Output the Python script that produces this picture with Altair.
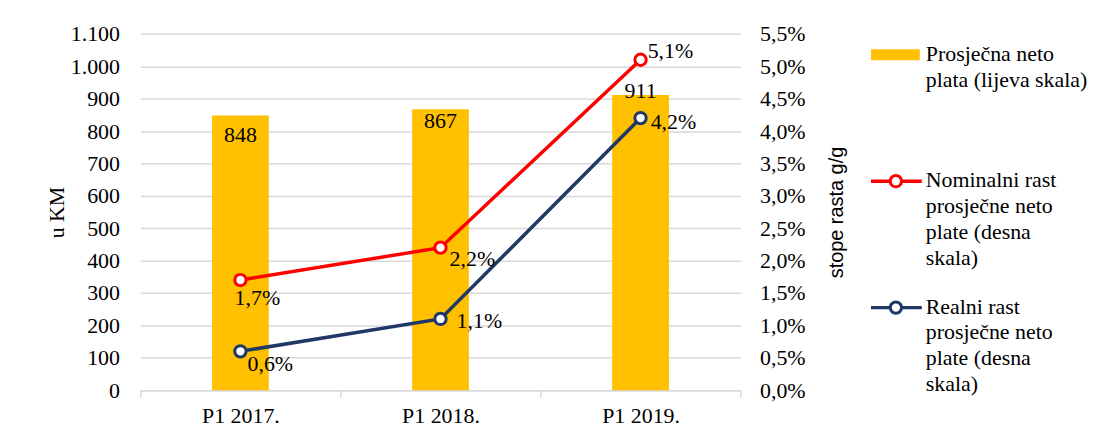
import altair as alt
import pandas as pd

# ---- data ----
categories = ["P1 2017.", "P1 2018.", "P1 2019."]
salary = [848, 867, 911]
nominal = [0.017, 0.022, 0.051]
real = [0.006, 0.011, 0.042]

series_keys = ["nominal", "real"]
legend_keys = ["bar", "nominal", "real"]
legend_labels = [
    "Prosječna neto\nplata (lijeva skala)",
    "Nominalni rast\nprosječne neto\nplate (desna\nskala)",
    "Realni rast\nprosječne neto\nplate (desna\nskala)",
]
left_ticks = list(range(0, 1101, 100))
right_ticks = [i * 0.005 for i in range(12)]

# ---- styles ----
SERIF = "Liberation Serif, Times New Roman, serif"
SANS = "Liberation Sans, Arial, sans-serif"
FS = 22
YELLOW = "#FFC000"
RED = "#FF0000"
NAVY = "#1F3864"
GRID = "#D9D9D9"
colors = {"nominal": RED, "real": NAVY}

df = pd.DataFrame({"cat": categories, "salary": salary, "nominal": nominal, "real": real})
df["salary_lbl"] = df["salary"].astype(str)

base = alt.Chart(df)

x_enc = alt.X(
    "cat:N",
    sort=categories,
    title=None,
    scale=alt.Scale(paddingInner=0, paddingOuter=0),
    axis=alt.Axis(
        labelAngle=0, labelFont=SERIF, labelFontSize=FS, labelColor="black",
        labelPadding=8, domainColor=GRID, domainWidth=1.5, tickColor=GRID,
        tickWidth=1.5, tickSize=7, tickBand="extent", grid=False,
    ),
)

y_left = alt.Y(
    "salary:Q",
    scale=alt.Scale(domain=[0, 1100]),
    axis=alt.Axis(
        values=left_ticks, title="u KM",
        labelExpr="replace(format(datum.value, ','), ',', '.')",
        grid=True, gridColor=GRID, gridWidth=1.5, domain=False, ticks=False,
        labelFont=SERIF, labelFontSize=FS, labelColor="black", labelPadding=21,
        titleFont=SERIF, titleFontSize=FS, titleFontWeight="normal",
        titleColor="black", titlePadding=2,
    ),
)

bars = base.mark_bar(color=YELLOW, width=57).encode(x=x_enc, y=y_left)

bar_label_dy = {"P1 2017.": 20, "P1 2018.": 12, "P1 2019.": -4}
bar_labels = []
for c in categories:
    bar_labels.append(
        base.transform_filter(alt.datum.cat == c)
        .mark_text(font=SERIF, fontSize=FS, color="black", baseline="middle", dy=bar_label_dy[c])
        .encode(x=x_enc, y=y_left, text="salary_lbl:N")
    )
left_group = alt.layer(bars, *bar_labels)

long = (
    base.transform_fold(series_keys, as_=["series", "value"])
    .transform_calculate(lbl="replace(format(datum.value, '.1%'), '.', ',')")
)

y_right = alt.Y(
    "value:Q",
    scale=alt.Scale(domain=[0, 0.055]),
    axis=alt.Axis(
        orient="right", values=right_ticks, title="stope rasta g/g",
        labelExpr="replace(format(datum.value, '.1%'), '.', ',')",
        grid=False, domain=False, ticks=False,
        labelFont=SERIF, labelFontSize=FS, labelColor="black", labelPadding=19,
        titleFont=SANS, titleFontSize=20, titleFontWeight="normal",
        titleColor="black", titlePadding=42, titleAngle=270,
    ),
)

label_off = {
    ("nominal", "P1 2017."): (17, 18),
    ("nominal", "P1 2018."): (32, 11),
    ("nominal", "P1 2019."): (30, -9),
    ("real", "P1 2017."): (30, 13),
    ("real", "P1 2018."): (39, 2),
    ("real", "P1 2019."): (33, 4),
}

right_layers = []
for s in series_keys:
    sd = long.transform_filter(alt.datum.series == s)
    right_layers.append(
        sd.mark_line(color=colors[s], strokeWidth=3.5).encode(x=x_enc, y=y_right)
    )
for s in series_keys:
    sd = long.transform_filter(alt.datum.series == s)
    right_layers.append(
        sd.mark_point(shape="circle", filled=True, fill="white", stroke=colors[s],
                      strokeWidth=3, size=130, opacity=1).encode(x=x_enc, y=y_right)
    )
for s in series_keys:
    for c in categories:
        dx, dy = label_off[(s, c)]
        right_layers.append(
            long.transform_filter((alt.datum.series == s) & (alt.datum.cat == c))
            .mark_text(font=SERIF, fontSize=FS, color="black", baseline="middle", dx=dx, dy=dy)
            .encode(x=x_enc, y=y_right, text="lbl:N")
        )
right_group = alt.layer(*right_layers)

main = (
    alt.layer(left_group, right_group)
    .resolve_scale(y="independent")
    .properties(width=603, height=358)
)

# ---- legend panel ----
leg = alt.Chart(pd.DataFrame({"key": legend_keys, "label": legend_labels}))
y_leg = alt.Y("key:N", sort=legend_keys, axis=None,
              scale=alt.Scale(type="point", padding=0.165))
line_scale = alt.Scale(domain=["nominal", "real"], range=[RED, NAVY])

leg_bar = leg.transform_filter(alt.datum.key == "bar").mark_rule(
    color=YELLOW, strokeWidth=11, strokeCap="butt"
).encode(x=alt.value(0), x2=alt.value(49), y=y_leg)
leg_line = leg.transform_filter(alt.datum.key != "bar").mark_rule(
    strokeWidth=3.5, strokeCap="butt"
).encode(x=alt.value(0), x2=alt.value(51), y=y_leg,
         color=alt.Color("key:N", scale=line_scale, legend=None))
leg_pt = leg.transform_filter(alt.datum.key != "bar").mark_point(
    shape="circle", filled=True, fill="white", strokeWidth=3, size=130, opacity=1
).encode(x=alt.value(25), y=y_leg,
         stroke=alt.Stroke("key:N", scale=line_scale, legend=None))
leg_txt = leg.mark_text(
    font=SERIF, fontSize=FS, color="black", align="left", baseline="alphabetic",
    dy=6, lineBreak="\n", lineHeight=26,
).encode(x=alt.value(55), y=y_leg, text="label:N")

legend_panel = alt.layer(leg_bar, leg_line, leg_pt, leg_txt).properties(width=190, height=296)

chart = (
    alt.hconcat(main, legend_panel, spacing=18)
    .properties(padding={"left": 37, "top": 14, "right": 0, "bottom": 0})
    .configure_view(stroke="transparent", strokeWidth=0)
)

chart.save("out.html", embed_options={"renderer": "svg", "actions": False})
